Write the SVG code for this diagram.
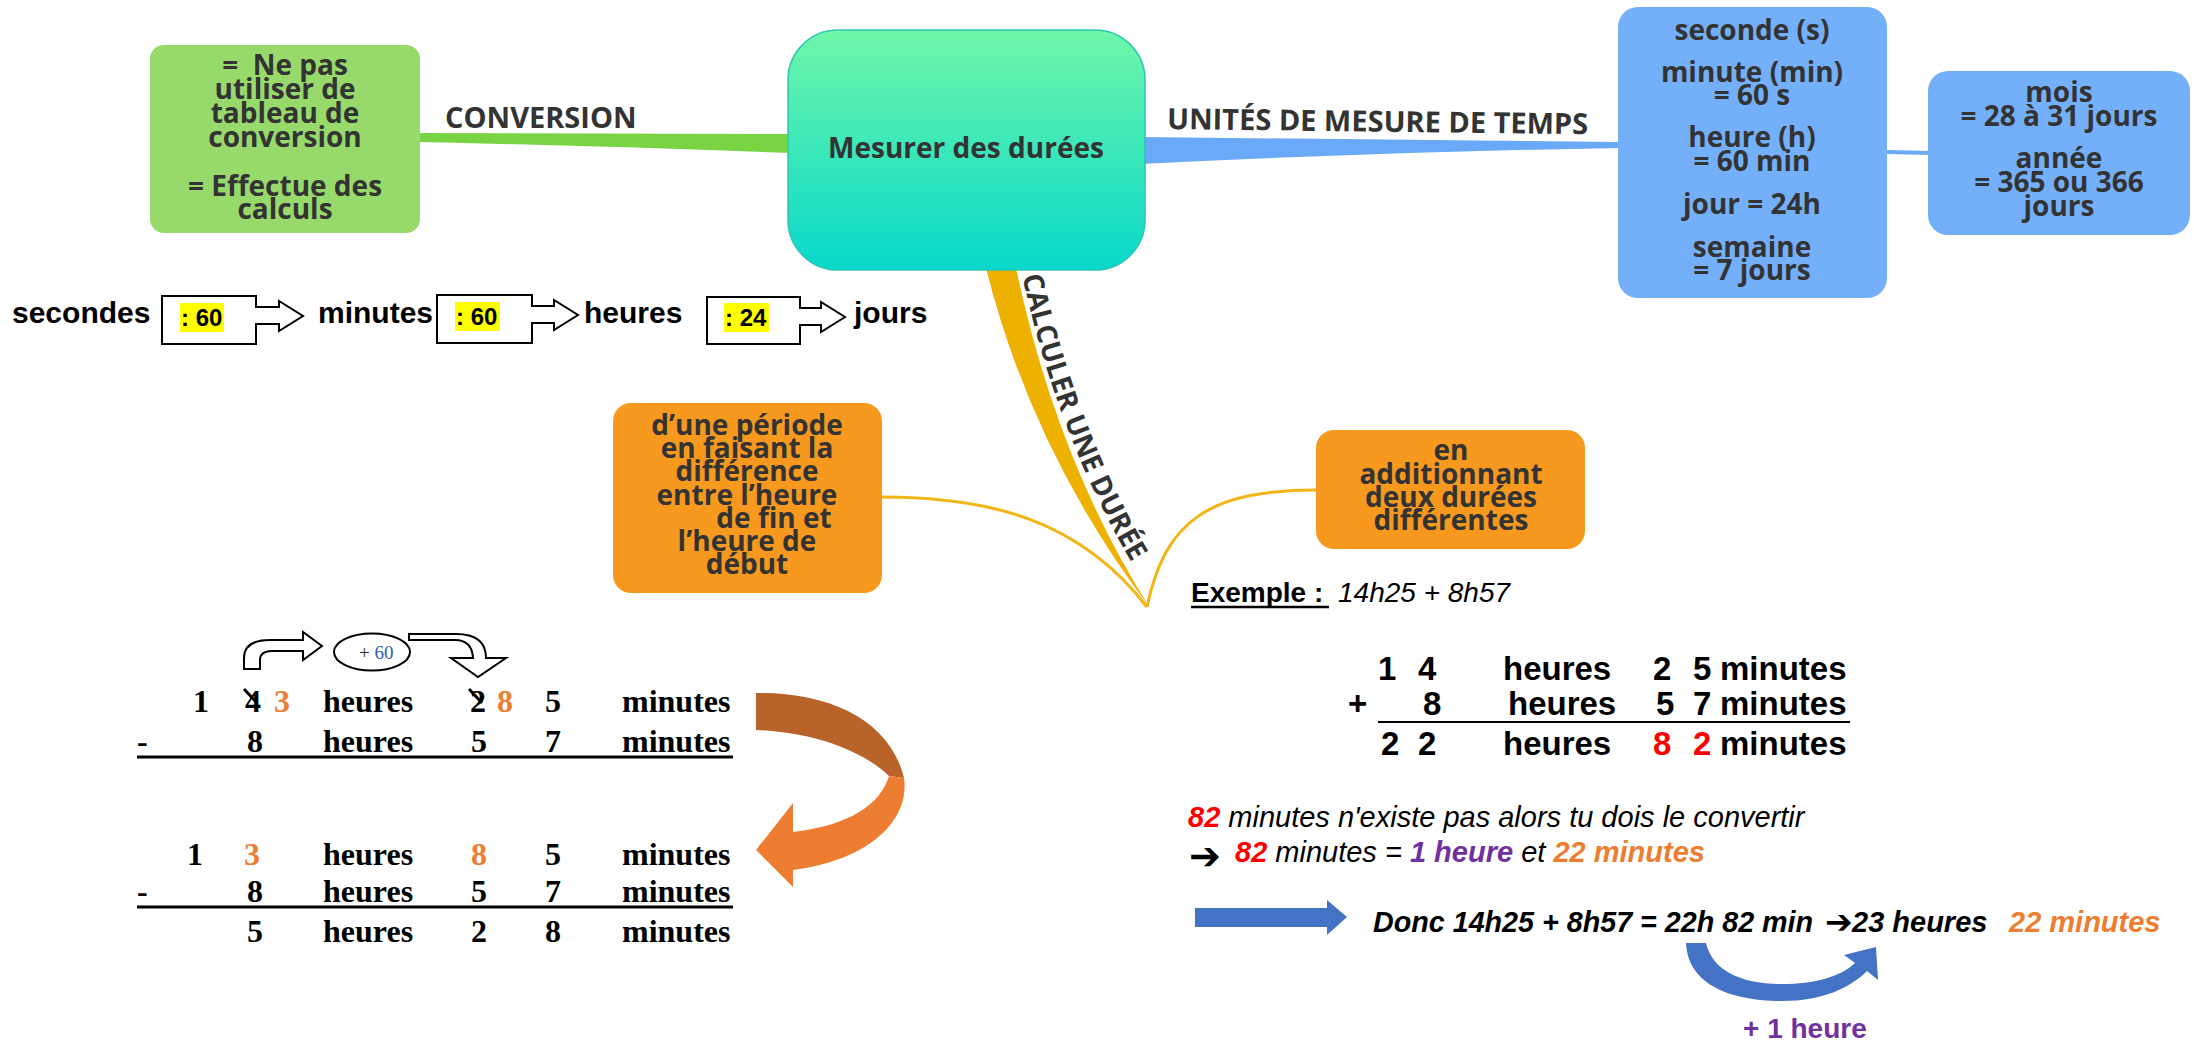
<svg xmlns="http://www.w3.org/2000/svg" width="2194" height="1042" viewBox="0 0 2194 1042">
<defs>
<linearGradient id="gCenter" x1="0" y1="0" x2="0" y2="1">
<stop offset="0" stop-color="#6ff7a8"/>
<stop offset="1" stop-color="#08d8cb"/>
</linearGradient>
<style>
.mm{font-family:"Open Sans","DejaVu Sans",sans-serif;font-weight:700;font-size:28px;fill:#333;text-anchor:middle}
.lb{font-family:"Open Sans","DejaVu Sans",sans-serif;font-weight:700;font-size:29px;fill:#333}
.ar{font-family:"Liberation Sans",Arial,sans-serif;font-weight:700;font-size:30px;fill:#000}
.ad{font-family:"Liberation Sans",Arial,sans-serif;font-weight:700;font-size:33px;fill:#000}
.it{font-family:"Liberation Sans",Arial,sans-serif;font-style:italic;font-size:29px;fill:#000}
.tm{font-family:"Liberation Serif","Times New Roman",serif;font-weight:700;font-size:32px;fill:#000}
.sym{font-family:"DejaVu Sans",sans-serif;font-weight:700;fill:#000}
.or{fill:#ed7d31}
.rd{fill:#ff0000}
.pu{fill:#7030a0}
.bx{fill:#fff;stroke:#000;stroke-width:2}
.hl{fill:#ffff00}
.thin{fill:none;stroke:#f2b515;stroke-width:3}
</style>
</defs>

<g id="connectors">
<path d="M420,133 L792,134 L792,153 Q600,146 420,142 Z" fill="#79d443"/>
<path d="M1140,137 L1620,142 L1620,148 Q1380,152 1140,164 Z" fill="#6aa8f8"/>
<path d="M1887,152 L1930,153" stroke="#6aa8f8" stroke-width="4" fill="none"/>
<path d="M986,268 L1016,268 Q1057,462 1150,608 Q1032,452 986,268 Z" fill="#efb100"/>
<path class="thin" d="M882,497 C990,497 1080,520 1147,607"/>
<path class="thin" d="M1147,607 C1165,520 1210,490 1317,490"/>
<text class="lb" x="445" y="128">CONVERSION</text>
<text class="lb" x="1167" y="129" transform="rotate(0.7 1167 129)">UNITÉS DE MESURE DE TEMPS</text>
<path id="pCalc" d="M1021,270 Q1062,462 1158,604" fill="none"/>
<text class="lb" style="font-size:28px"><textPath href="#pCalc" startOffset="6">CALCULER UNE DURÉE</textPath></text>
</g>

<g id="center">
<rect x="788" y="30" width="357" height="240" rx="50" fill="url(#gCenter)" stroke="#2cc6b4" stroke-width="1.5"/>
<text class="mm" x="966" y="158">Mesurer des durées</text>
</g>

<g id="conversion-box">
<rect x="150" y="45" width="270" height="188" rx="14" fill="#97da6b"/>
<text class="mm" xml:space="preserve"><tspan x="285" y="75">=  Ne pas</tspan><tspan x="285" y="99">utiliser de</tspan><tspan x="285" y="123">tableau de</tspan><tspan x="285" y="147">conversion</tspan><tspan x="285" y="196">= Effectue des</tspan><tspan x="285" y="219">calculs</tspan></text>
</g>

<g id="units-box">
<rect x="1618" y="7" width="269" height="291" rx="20" fill="#74b0f9"/>
<text class="mm"><tspan x="1752" y="40">seconde (s)</tspan><tspan x="1752" y="82">minute (min)</tspan><tspan x="1752" y="105">= 60 s</tspan><tspan x="1752" y="147">heure (h)</tspan><tspan x="1752" y="171">= 60 min</tspan><tspan x="1752" y="214">jour = 24h</tspan><tspan x="1752" y="257">semaine</tspan><tspan x="1752" y="280">= 7 jours</tspan></text>
</g>

<g id="units-box-2">
<rect x="1928" y="71" width="262" height="164" rx="20" fill="#74b0f9"/>
<text class="mm"><tspan x="2059" y="102">mois</tspan><tspan x="2059" y="126">= 28 à 31 jours</tspan><tspan x="2059" y="168">année</tspan><tspan x="2059" y="192">= 365 ou 366</tspan><tspan x="2059" y="216">jours</tspan></text>
</g>

<g id="periode-box">
<rect x="613" y="403" width="269" height="190" rx="18" fill="#f7991f"/>
<text class="mm"><tspan x="747" y="435">d’une période</tspan><tspan x="747" y="458">en faisant la</tspan><tspan x="747" y="481">différence</tspan><tspan x="747" y="505">entre l’heure</tspan><tspan x="774" y="528">de fin et</tspan><tspan x="747" y="551">l’heure de</tspan><tspan x="747" y="574">début</tspan></text>
</g>

<g id="addition-box">
<rect x="1316" y="430" width="269" height="119" rx="18" fill="#f7991f"/>
<text class="mm"><tspan x="1451" y="460">en</tspan><tspan x="1451" y="484">additionnant</tspan><tspan x="1451" y="507">deux durées</tspan><tspan x="1451" y="530">différentes</tspan></text>
</g>

<g id="conversion-chain">
<text class="ar" x="12" y="323">secondes</text>
<path class="bx" d="M162,296 H256 V307 H279 V301 L303,316 L279,331 V324 H256 V344 H162 Z"/>
<rect class="hl" x="180" y="303" width="44" height="29"/>
<text class="ar" x="181" y="326" style="font-size:24px">: 60</text>
<text class="ar" x="318" y="323">minutes</text>
<path class="bx" d="M437,295 H532 V306 H554 V300 L578,315 L554,330 V323 H532 V343 H437 Z"/>
<rect class="hl" x="455" y="302" width="45" height="29"/>
<text class="ar" x="456" y="325" style="font-size:24px">: 60</text>
<text class="ar" x="584" y="323">heures</text>
<path class="bx" d="M707,297 H800 V308 H821 V302 L845,317 L821,332 V325 H800 V344 H707 Z"/>
<rect class="hl" x="724" y="303" width="45" height="29"/>
<text class="ar" x="725" y="326" style="font-size:24px">: 24</text>
<text class="ar" x="854" y="323">jours</text>
</g>

<g id="subtraction">
<path d="M244,669 L244,658 Q244,640 270,640 L303,640 L303,632 L322,646 L303,660 L303,651 L272,651 Q260,651 260,660 L260,669 Z" fill="#fff" stroke="#000" stroke-width="2"/>
<ellipse cx="372" cy="652" rx="38" ry="18.5" fill="#fff" stroke="#000" stroke-width="2"/>
<text x="359" y="659" style="font-family:'Liberation Serif',serif;font-size:19px;fill:#222">+ <tspan fill="#2e5fa3">60</tspan></text>
<path d="M409,634 L456,634 Q486,634 486,658 L506,658 L478,677 L451,658 L473,658 Q472,640 455,640 L409,640 Z" fill="#fff" stroke="#000" stroke-width="2"/>

<text class="tm" x="193" y="712">1</text>
<text class="tm" x="245" y="712">4</text>
<line x1="244" y1="689" x2="257" y2="703" stroke="#000" stroke-width="3"/>
<text class="tm or" x="274" y="712">3</text>
<text class="tm" x="323" y="712">heures</text>
<text class="tm" x="470" y="712">2</text>
<line x1="469" y1="689" x2="482" y2="703" stroke="#000" stroke-width="3"/>
<text class="tm or" x="497" y="712">8</text>
<text class="tm" x="545" y="712">5</text>
<text class="tm" x="622" y="712">minutes</text>

<text class="tm" x="137" y="752">-</text>
<text class="tm" x="247" y="752">8</text>
<text class="tm" x="323" y="752">heures</text>
<text class="tm" x="471" y="752">5</text>
<text class="tm" x="545" y="752">7</text>
<text class="tm" x="622" y="752">minutes</text>
<line x1="137" y1="757" x2="733" y2="757" stroke="#000" stroke-width="3"/>

<text class="tm" x="187" y="865">1</text>
<text class="tm or" x="244" y="865">3</text>
<text class="tm" x="323" y="865">heures</text>
<text class="tm or" x="471" y="865">8</text>
<text class="tm" x="545" y="865">5</text>
<text class="tm" x="622" y="865">minutes</text>

<text class="tm" x="137" y="902">-</text>
<text class="tm" x="247" y="902">8</text>
<text class="tm" x="323" y="902">heures</text>
<text class="tm" x="471" y="902">5</text>
<text class="tm" x="545" y="902">7</text>
<text class="tm" x="622" y="902">minutes</text>
<line x1="137" y1="907" x2="733" y2="907" stroke="#000" stroke-width="3"/>

<text class="tm" x="247" y="942">5</text>
<text class="tm" x="323" y="942">heures</text>
<text class="tm" x="471" y="942">2</text>
<text class="tm" x="545" y="942">8</text>
<text class="tm" x="622" y="942">minutes</text>

<path d="M756,693 C830,692 890,720 904,778 L889,776 C862,750 812,732 756,730 Z" fill="#b9622a"/>
<path d="M904,778 C910,820 870,860 793,870 L793,887 L756,850 L793,803 L793,832 C850,825 880,805 889,776 Z" fill="#ed7d31"/>
</g>

<g id="addition">
<text x="1191" y="602" style="font-family:'Liberation Sans',Arial,sans-serif;font-weight:700;font-size:28px">Exemple :</text>
<line x1="1191" y1="607" x2="1329" y2="607" stroke="#000" stroke-width="2.5"/>
<text x="1338" y="602" style="font-family:'Liberation Sans',Arial,sans-serif;font-style:italic;font-size:28px">14h25 + 8h57</text>

<text class="ad" x="1378" y="680">1</text>
<text class="ad" x="1418" y="680">4</text>
<text class="ad" x="1503" y="680">heures</text>
<text class="ad" x="1653" y="680">2</text>
<text class="ad" x="1693" y="680">5</text>
<text class="ad" x="1720" y="680">minutes</text>

<text class="ad" x="1348" y="715">+</text>
<text class="ad" x="1423" y="715">8</text>
<text class="ad" x="1508" y="715">heures</text>
<text class="ad" x="1656" y="715">5</text>
<text class="ad" x="1693" y="715">7</text>
<text class="ad" x="1720" y="715">minutes</text>
<line x1="1378" y1="722" x2="1850" y2="722" stroke="#000" stroke-width="2"/>

<text class="ad" x="1381" y="755">2</text>
<text class="ad" x="1418" y="755">2</text>
<text class="ad" x="1503" y="755">heures</text>
<text class="ad rd" x="1653" y="755">8</text>
<text class="ad rd" x="1693" y="755">2</text>
<text class="ad" x="1720" y="755">minutes</text>
</g>

<g id="explanation">
<text class="it" x="1188" y="827"><tspan class="rd" font-weight="700">82</tspan> minutes n'existe pas alors tu dois le convertir</text>
<text class="sym" x="1189" y="869" style="font-size:38px">➔</text>
<text class="it" x="1235" y="862"><tspan class="rd" font-weight="700">82</tspan> minutes = <tspan class="pu" font-weight="700">1 heure</tspan> et <tspan class="or" font-weight="700">22 minutes</tspan></text>

<path d="M1195,908 H1327 V900 L1347,917 L1327,935 V927 H1195 Z" fill="#4472c4"/>
<text class="it" x="1373" y="932" font-weight="700" style="font-size:28.7px">Donc 14h25 + 8h57 = 22h 82 min</text>
<text class="sym" x="1825" y="933" style="font-size:33px">➔</text>
<text class="it" x="1852" y="932" font-weight="700">23 heures</text>
<text class="it or" x="2009" y="932" font-weight="700">22 minutes</text>

<path d="M1686,943 C1688,987 1735,1001 1782,1001 C1822,1001 1850,988 1867,971 L1878,980 L1876,947 L1844,955 L1855,963 C1840,977 1815,984 1782,984 C1740,984 1712,970 1706,943 Z" fill="#4472c4"/>
<text x="1743" y="1038" style="font-family:'Liberation Sans',Arial,sans-serif;font-weight:700;font-size:28px" class="pu">+ 1 heure</text>
</g>
</svg>
